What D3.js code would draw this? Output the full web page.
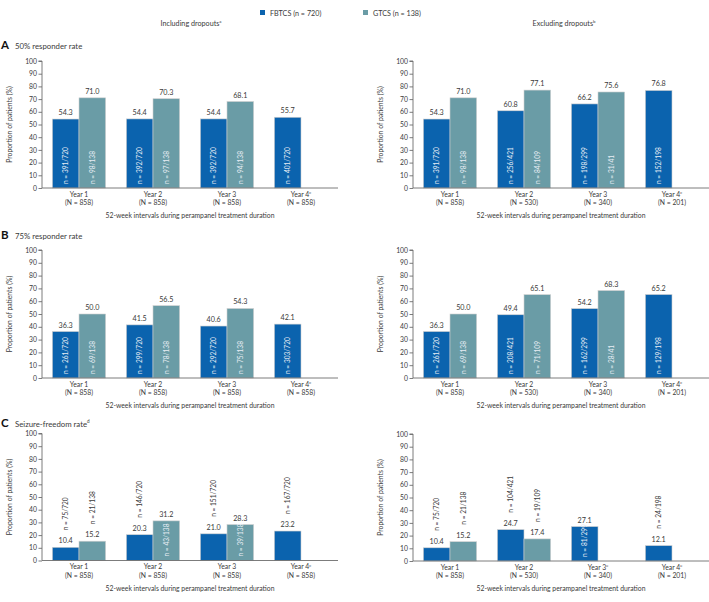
<!DOCTYPE html>
<html><head><meta charset="utf-8">
<script src="https://cdn.jsdelivr.net/npm/d3@7"></script>
<style>
html,body{margin:0;padding:0;background:#fff;}
svg{display:block;font-family:Lato,"Open Sans",sans-serif;}
</style></head>
<body>
<svg id="chart" width="709" height="602"></svg>
<script>
// ---------- DATA ----------
const categories = ["Year 1", "Year 2", "Year 3", "Year 4"];
const seriesNames = ["FBTCS (n = 720)", "GTCS (n = 138)"];
const yTicks = [0,10,20,30,40,50,60,70,80,90,100];

const nLeft = ["858", "858", "858", "858"];
const nRight = ["858", "530", "340", "201"];
const supLeft = ["", "", "", "c"];
const supRight = ["", "", "", "c"];
const supRightC = ["", "", "e", "e"];

// A: 50% responder rate
const aLeftFBTCS = [54.3, 54.4, 54.4, 55.7];
const aLeftFBTCSn = ["391/720", "392/720", "392/720", "401/720"];
const aLeftGTCS = [71.0, 70.3, 68.1, null];
const aLeftGTCSn = ["98/138", "97/138", "94/138", null];
const aRightFBTCS = [54.3, 60.8, 66.2, 76.8];
const aRightFBTCSn = ["391/720", "256/421", "198/299", "152/198"];
const aRightGTCS = [71.0, 77.1, 75.6, null];
const aRightGTCSn = ["98/138", "84/109", "31/41", null];

// B: 75% responder rate
const bLeftFBTCS = [36.3, 41.5, 40.6, 42.1];
const bLeftFBTCSn = ["261/720", "299/720", "292/720", "303/720"];
const bLeftGTCS = [50.0, 56.5, 54.3, null];
const bLeftGTCSn = ["69/138", "78/138", "75/138", null];
const bRightFBTCS = [36.3, 49.4, 54.2, 65.2];
const bRightFBTCSn = ["261/720", "208/421", "162/299", "129/198"];
const bRightGTCS = [50.0, 65.1, 68.3, null];
const bRightGTCSn = ["69/138", "71/109", "28/41", null];

// C: Seizure-freedom rate
const cLeftFBTCS = [10.4, 20.3, 21.0, 23.2];
const cLeftFBTCSn = ["75/720", "146/720", "151/720", "167/720"];
const cLeftGTCS = [15.2, 31.2, 28.3, null];
const cLeftGTCSn = ["21/138", "43/138", "39/138", null];
const cRightFBTCS = [10.4, 24.7, 27.1, 12.1];
const cRightFBTCSn = ["75/720", "104/421", "81/299", "24/198"];
const cRightGTCS = [15.2, 17.4, null, null];
const cRightGTCSn = ["21/138", "19/109", null, null];

// ---------- STYLE ----------
const colors = ["#0b63ae", "#6a9ca6"];
const textCol = "#3a3a3a";
const axisCol = "#6d6d6d";

const svg = d3.select("#chart");

// Legend
const legend = svg.append("g");
[[260, seriesNames[0], colors[0]], [363, seriesNames[1], colors[1]]].forEach(([x, t, c]) => {
  legend.append("rect").attr("x", x).attr("y", 10).attr("width", 5).attr("height", 5).attr("fill", c);
  legend.append("text").attr("x", x + 10).attr("y", 15.5).attr("font-size", 7.2).attr("fill", textCol).text(t);
});

// Column titles
function supText(sel, main, sup, size) {
  sel.append("tspan").text(main);
  if (sup) sel.append("tspan").attr("font-size", size * 0.6).attr("dy", -size * 0.4).text(sup);
}
supText(svg.append("text").attr("x", 191).attr("y", 26).attr("text-anchor", "middle").attr("font-size", 7.2).attr("fill", textCol), "Including dropouts", "a", 7.2);
supText(svg.append("text").attr("x", 564).attr("y", 26).attr("text-anchor", "middle").attr("font-size", 7.2).attr("fill", textCol), "Excluding dropouts", "b", 7.2);

// Panel headings
const headings = [
  {letter: "A", title: "50% responder rate", sup: "", y: 49},
  {letter: "B", title: "75% responder rate", sup: "", y: 239},
  {letter: "C", title: "Seizure-freedom rate", sup: "d", y: 427}
];
headings.forEach(h => {
  svg.append("text").attr("x", 1).attr("y", h.y).attr("font-size", 11.5).attr("font-weight", "bold").attr("fill", "#111").text(h.letter);
  supText(svg.append("text").attr("x", 15).attr("y", h.y - 0.5).attr("font-size", 7.8).attr("fill", textCol), h.title, h.sup, 7.8);
});

// Panels
const panels = [
  {x0: 42, x1: 338, y0: 188, y1: 61, f: aLeftFBTCS, fn: aLeftFBTCSn, g: aLeftGTCS, gn: aLeftGTCSn, N: nLeft, sup: supLeft, tx: 10},
  {x0: 413, x1: 709, y0: 188, y1: 61, f: aRightFBTCS, fn: aRightFBTCSn, g: aRightGTCS, gn: aRightGTCSn, N: nRight, sup: supRight, tx: 381},
  {x0: 42, x1: 338, y0: 378, y1: 250, f: bLeftFBTCS, fn: bLeftFBTCSn, g: bLeftGTCS, gn: bLeftGTCSn, N: nLeft, sup: supLeft, tx: 10},
  {x0: 413, x1: 709, y0: 378, y1: 250, f: bRightFBTCS, fn: bRightFBTCSn, g: bRightGTCS, gn: bRightGTCSn, N: nRight, sup: supRight, tx: 381},
  {x0: 42, x1: 338, y0: 560.5, y1: 433.5, f: cLeftFBTCS, fn: cLeftFBTCSn, g: cLeftGTCS, gn: cLeftGTCSn, N: nLeft, sup: supLeft, tx: 10},
  {x0: 413, x1: 709, y0: 561, y1: 434, f: cRightFBTCS, fn: cRightFBTCSn, g: cRightGTCS, gn: cRightGTCSn, N: nRight, sup: supRightC, tx: 381}
];

panels.forEach(p => {
  const g = svg.append("g");
  const x = d3.scaleBand().domain(categories).range([p.x0, p.x1]).paddingInner(0.28).paddingOuter(0.14);
  const xs = d3.scaleBand().domain([0, 1]).range([0, x.bandwidth()]);
  const y = d3.scaleLinear().domain([0, 100]).range([p.y0, p.y1]);

  // y axis
  const yAxis = g.append("g").attr("transform", `translate(${p.x0},0)`)
    .call(d3.axisLeft(y).tickValues(yTicks).tickSize(3.5).tickPadding(1.5));
  yAxis.selectAll("path,line").attr("stroke", axisCol).attr("stroke-width", 0.9);
  yAxis.selectAll("text").attr("font-size", 6.8).attr("fill", textCol).attr("font-family", "Lato");
  yAxis.select(".domain").attr("d", `M-3.5,${p.y1}H0V${p.y0}`);

  // bars
  const rows = [];
  categories.forEach((c, i) => {
    [[p.f[i], p.fn[i]], [p.g[i], p.gn[i]]].forEach(([v, n], s) => {
      if (v != null) rows.push({c, s, v, n});
    });
  });
  const bars = g.selectAll(".bar").data(rows).enter().append("g");
  bars.append("rect")
    .attr("x", d => x(d.c) + xs(d.s))
    .attr("y", d => y(d.v))
    .attr("width", xs.bandwidth())
    .attr("height", d => y(0) - y(d.v))
    .attr("fill", d => colors[d.s])
    .attr("stroke", "#d0d0d0").attr("stroke-width", 0.6);
  bars.append("text")
    .attr("x", d => x(d.c) + xs(d.s) + xs.bandwidth() / 2)
    .attr("y", d => y(d.v) - 4)
    .attr("text-anchor", "middle").attr("font-size", 7.2).attr("fill", textCol)
    .text(d => d.v.toFixed(1));
  bars.append("text")
    .attr("transform", d => {
      const cx = x(d.c) + xs(d.s) + xs.bandwidth() / 2 + 2.3;
      const inside = d.v >= 26;
      const yy = inside ? y(0) - 4 : y(d.v) - 17;
      return `translate(${cx},${yy}) rotate(-90)`;
    })
    .attr("font-size", 6.6)
    .attr("fill", d => d.v >= 26 ? "#e8eef5" : textCol)
    .text(d => "n = " + d.n);

  // x axis line
  g.append("line").attr("x1", p.x0).attr("x2", p.x1).attr("y1", p.y0).attr("y2", p.y0)
    .attr("stroke", axisCol).attr("stroke-width", 0.9);

  // category labels
  categories.forEach((c, i) => {
    const cx = x(c) + x.bandwidth() / 2;
    const t = g.append("text").attr("x", cx).attr("y", p.y0 + 8.8).attr("text-anchor", "middle")
      .attr("font-size", 6.8).attr("fill", textCol);
    supText(t, c, p.sup[i], 6.8);
    g.append("text").attr("x", cx).attr("y", p.y0 + 17).attr("text-anchor", "middle")
      .attr("font-size", 6.8).attr("fill", textCol).text("(N = " + p.N[i] + ")");
  });
  g.append("text").attr("x", (p.x0 + p.x1) / 2).attr("y", p.y0 + 30)
    .attr("text-anchor", "middle").attr("font-size", 6.8).attr("fill", textCol)
    .text("52-week intervals during perampanel treatment duration");

  // y title
  g.append("text").attr("transform", `translate(${p.tx + 2},${(p.y0 + p.y1) / 2}) rotate(-90)`)
    .attr("text-anchor", "middle").attr("font-size", 6.8).attr("fill", textCol)
    .text("Proportion of patients (%)");
});
</script>
</body></html>
